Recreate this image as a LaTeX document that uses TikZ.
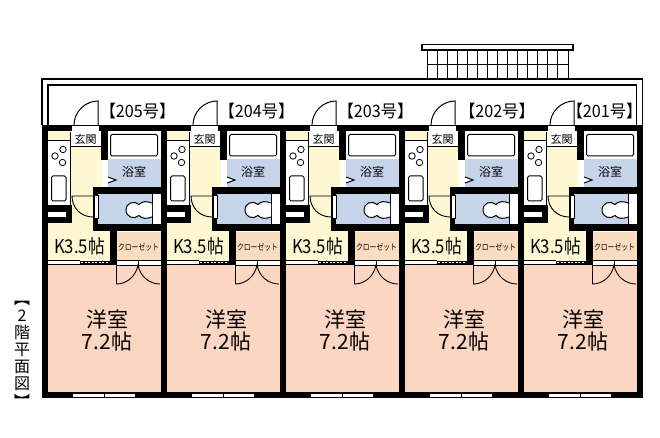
\documentclass[tikz,border=0pt]{standalone}
\usepackage{fontspec}
\setmainfont{Noto Sans CJK JP}
\definecolor{cream}{HTML}{FDF8D2}
\definecolor{bathblue}{HTML}{C6D4EA}
\definecolor{roompink}{HTML}{FBD6C2}
\definecolor{closetc}{HTML}{F9DDBE}
\tikzset{
  wall/.style={fill=black,draw=none},
  room text/.style={inner sep=0pt,text=black},
  lab/.style={room text,font=\fontsize{17}{17}\selectfont,xscale=.95},
  bigt/.style={room text,font=\fontsize{21}{21}\selectfont},
  ktext/.style={room text,font=\fontsize{19}{19}\selectfont,xscale=.88},
  smallt/.style={room text,font=\fontsize{12}{12}\selectfont},
  vert/.style={room text,font=\fontsize{16}{16}\selectfont},
  fixture/.style={draw=black,line width=1pt,fill=white,rounded corners=1.5pt}
}
\begin{document}
\begin{tikzpicture}[x=1pt,y=-1pt]
\useasboundingbox (0,0) rectangle (660,438);
% balcony
\draw[line width=1.2pt] (42,125) -- (42,79) -- (642.6,79) -- (642.6,125);
\draw[line width=1.2pt] (48,125) -- (48,85) -- (636.5,85) -- (636.5,125);
% railing
\foreach \vx in {0,...,14} \draw[line width=.9pt] (427+\vx*10.07,50) -- (427+\vx*10.07,79);
\draw[line width=.9pt] (427,64) -- (568,64);
\draw[line width=1.1pt,fill=white] (422,44.5) rectangle (573,50);
% units
\foreach \i in {0,...,4}{
\begin{scope}[xshift=\i*119pt]
  \fill[white] (42,125) rectangle (167,398);
  \fill[roompink] (48,265) rectangle (161,392);
  \fill[cream] (48,131) rectangle (70,140);
  \fill[cream] (70,146) rectangle (102,224);
  \fill[cream] (48,222) rectangle (110,260);
  \fill[cream] (72,196) rectangle (93,232);
  \fill[closetc] (117,232) rectangle (161,260);
  % bath
  \fill[bathblue] (108,159) rectangle (161,188);
  \fill[bathblue] (98,194) rectangle (152,224);
  % walls
  \fill[wall] (42,125) rectangle (167,131.5);
  \fill[wall] (42,125) rectangle (48,398);
  \fill[wall] (160.5,125) rectangle (167,398);
  \fill[wall] (42,391.5) rectangle (167,398);
  \fill[wall] (101,131) rectangle (108,160);
  \fill[wall] (93,187) rectangle (161,194);
  \fill[wall] (93,187) rectangle (98,231);
  \fill[wall] (93,224) rectangle (161,231);
  \fill[wall] (110,224) rectangle (117,265);
  \fill[wall] (48,205) rectangle (72,223);
  % wall openings
  \fill[white] (48,212) rectangle (66,217);
  \fill[white] (94,195) rectangle (98,218);
  \draw[line width=.5pt] (94,195) rectangle (98,218);
  \fill[white] (102,160) rectangle (107,187);
  \fill[white] (72,126) rectangle (99,131);
  \fill[white] (73,393.5) rectangle (135,396.5);
  \draw[line width=.6pt] (104,393.5) -- (104,396.5);
  % genkan
  \fill[white] (70,132) rectangle (101,146);
  \draw[line width=.6pt] (70,146) -- (101,146) (70,132) -- (70,205);
  \node[smallt,font=\fontsize{11}{11}\selectfont] (gen\i) at (85.5,139) {玄関};
  % kitchen
  \fill[white] (48.5,140.5) rectangle (70,205);
  \draw[line width=.6pt] (48,140) -- (70,140);
  \foreach \cx/\cy in {63/149.5,55/156,62.5/162.5} \draw[line width=.8pt] (\cx,\cy) circle (3.2);
  \draw[fixture] (51.5,176) rectangle (66,201);
  % tub
  \fill[white] (108,131.5) rectangle (160.5,159);
  \draw[fixture] (110.5,134.5) rectangle (157.5,156);
  \node[smallt] (bath\i) at (134,172) {浴室};
  \draw[line width=1pt,fill=white] (108,177) -- (116,180) -- (108,183);
  % toilet
  \fill[white] (152,194) rectangle (160.5,224);
  \draw[line width=.5pt] (152,194) -- (152,224);
  \draw[line width=1pt,fill=white] (152,203) .. controls (147,201) and (142,201) .. (139,204.5)
    .. controls (134,200) and (126,203) .. (126,210)
    .. controls (126,217) and (134,220) .. (139,215.5)
    .. controls (142,219) and (147,219) .. (152,217);
  % entrance door
  \draw[line width=1pt] (98,125) -- (98,101) .. controls (85,101) and (74,112) .. (74,125);
  % inner door
  \draw[line width=.9pt] (93,196) -- (72,196) .. controls (72,208) and (81,217) .. (93,217);
  % K
  \node[ktext] (k\i) at (79.5,246) {K3.5帖};
  \fill[white] (48,260) rectangle (80,264.5);
  \draw[line width=.7pt] (48,260) -- (80,260) (48,264.5) -- (80,264.5);
  \fill[wall] (80,260.5) rectangle (110,265);
  \draw[white,line width=1pt,dash pattern=on 2pt off 1.5pt] (81,262.2) -- (109,262.2);
  % closet
  \node[room text,font=\fontsize{8.5}{8.5}\selectfont,xscale=.8] (cl\i) at (138.5,247) {クローゼット};
  \fill[white] (117,260) rectangle (160.5,265);
  \draw[line width=.7pt] (117,260) -- (160.5,260) (117,265) -- (160.5,265);
  \draw[line width=.9pt] (116.5,265) -- (116.5,284) .. controls (127,284) and (136,276) .. (138,265)
     .. controls (140,276) and (149,284) .. (160,284);
  \draw[line width=.7pt] (138,260) -- (138,265);
  % room
  \node[bigt] (yo\i) at (107,320) {洋室};
  \node[bigt] (ja\i) at (107,342) {7.2帖};
\end{scope}}
% labels
\node[lab] (l205) at (137.5,111) {【205号】};
\node[lab] (l204) at (256.5,111) {【204号】};
\node[lab] (l203) at (375.5,111) {【203号】};
\node[lab] (l202) at (497,111) {【202号】};
\node[lab] (l201) at (604.5,111) {【201号】};
% vertical title
\node[vert,rotate=90] (vb1) at (22,298) {】};
\node[vert] (v2) at (22,316) {2};
\node[vert] (v3) at (22,333) {階};
\node[vert] (v4) at (22,350) {平};
\node[vert] (v5) at (22,367) {面};
\node[vert] (v6) at (22,384) {図};
\node[vert,rotate=90] (vb2) at (22,401) {【};
\end{tikzpicture}
\end{document}
